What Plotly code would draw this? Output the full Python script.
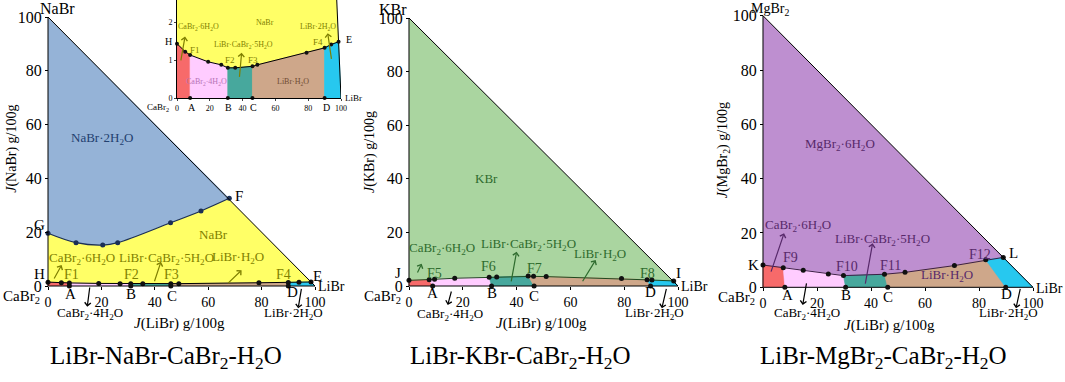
import plotly.graph_objects as go

W, H = 1065, 382
FONT = "Liberation Serif, Times New Roman, serif"

# ---------------- data ----------------
# Panel 1: LiBr-NaBr-CaBr2-H2O
nabr_upper_x = [0, 10.5, 20.5, 26.1, 45.9, 57.3, 67.9]          # G ... F
nabr_upper_y = [19.6, 16.1, 15.2, 16.1, 23.5, 27.9, 32.6]
nabr_low_x = [0, 5, 8, 19, 27, 31, 35.5, 46, 49, 79, 90, 94, 98.5]  # H ... E
nabr_low_y = [1.44, 1.23, 1.14, 0.96, 0.88, 0.80, 0.80, 0.84, 0.88, 1.20, 1.33, 1.42, 1.49]
nabr_inv_idx = [0, 2, 5, 7, 10, 12]          # H, F1, F2, F3, F4, E
nabr_base_x = [0, 8, 31, 46, 90, 100]        # CaBr2, A, B, C, D, LiBr

# Panel 2: LiBr-KBr-CaBr2-H2O
kbr_x = [0, 7.5, 9.5, 17.0, 29.8, 32.6, 44.3, 46.3, 51.0, 79.0, 88.5, 90.3, 98.4]  # J ... I
kbr_y = [2.1, 2.3, 2.5, 2.9, 3.3, 3.4, 3.7, 3.6, 3.5, 2.8, 2.3, 2.2, 1.9]
kbr_inv_idx = [0, 1, 4, 6, 10, 12]           # J, F5, F6, F7, F8, I
kbr_base_x = [0, 8.8, 30.7, 46.5, 89.8, 100]

# Panel 3: LiBr-MgBr2-CaBr2-H2O
mgbr_x = [0, 7.5, 14.9, 24.2, 29.8, 45.0, 52.6, 70.9, 82.5, 89.0]  # K ... L
mgbr_y = [8.2, 7.2, 6.3, 4.9, 4.3, 4.8, 5.5, 8.0, 10.1, 11.0]
mgbr_inv_idx = [0, 1, 4, 5, 8, 9]            # K, F9, F10, F11, F12, L
mgbr_base_x = [0, 8.1, 30.6, 46.2, 89.9, 100]

tick_vals = [0, 20, 40, 60, 80, 100]
inset_y_ticks = [0, 1, 2]
phase_colors = ["#f76a6a", "#ffccff", "#47a89d", "#cea78a", "#27c8ef"]
titles = ["LiBr-NaBr-CaBr<sub>2</sub>-H<sub>2</sub>O",
          "LiBr-KBr-CaBr<sub>2</sub>-H<sub>2</sub>O",
          "LiBr-MgBr<sub>2</sub>-CaBr<sub>2</sub>-H<sub>2</sub>O"]

# ---------------- layout geometry (pixels) ----------------
panels = [
    dict(x0=48, x100=315, y0=286, y100=17),
    dict(x0=409, x100=678, y0=286, y100=18),
    dict(x0=763, x100=1033, y0=287.3, y100=15.7),
]
XR = [-17, 106]
YR = [-16, 105]
inset = dict(x0=177, x100=341, y0=98, ytop=0)
INSET_YR = [0, 2.6]

fig = go.Figure()
ann = []

def dom(p):
    sx = (p['x100'] - p['x0']) / 100
    sy = (p['y0'] - p['y100']) / 100
    left = p['x0'] + XR[0] * sx
    right = p['x0'] + XR[1] * sx
    bottom = p['y0'] - YR[0] * sy
    top = p['y0'] - YR[1] * sy
    return [left / W, right / W], [1 - bottom / H, 1 - top / H], p['x0'] / W, 1 - p['y0'] / H

def axname(i):
    return ("x" if i == 1 else f"x{i}"), ("y" if i == 1 else f"y{i}")

def bands(cx, cy, idx, base):
    out = []
    for k in range(5):
        i0, i1 = idx[k], idx[k + 1]
        xs = [base[k]] + cx[i0:i1 + 1] + [base[k + 1]]
        ys = [0] + cy[i0:i1 + 1] + [0]
        out.append((xs, ys))
    return out

def add_poly(xs, ys, color, i, lw=0):
    xa, ya = axname(i)
    fig.add_trace(go.Scatter(x=xs, y=ys, mode="lines", fill="toself", fillcolor=color,
                             line=dict(width=lw, color=color), xaxis=xa, yaxis=ya,
                             hoverinfo="skip", showlegend=False))

def add_line(xs, ys, i, color="black", width=1, markers=False, shape="linear", clip=True):
    xa, ya = axname(i)
    fig.add_trace(go.Scatter(x=xs, y=ys, mode="lines+markers" if markers else "lines",
                             line=dict(color=color, width=width, shape=shape),
                             marker=dict(size=5, color="#111111"), xaxis=xa, yaxis=ya,
                             cliponaxis=clip, hoverinfo="skip", showlegend=False))

def add_pts(xs, ys, i, clip=True, size=5):
    xa, ya = axname(i)
    fig.add_trace(go.Scatter(x=xs, y=ys, mode="markers", marker=dict(size=size, color="#111111"),
                             xaxis=xa, yaxis=ya, cliponaxis=clip, hoverinfo="skip", showlegend=False))

def lab(text, x, y, i, color="black", size=14, xanchor="center", angle=0, xs=0, ys=0):
    xa, ya = axname(i)
    ann.append(dict(text=text, x=x, y=y, xref=xa, yref=ya, showarrow=False,
                    font=dict(family=FONT, size=size, color=color), xanchor=xanchor,
                    yanchor="middle", textangle=angle, xshift=xs, yshift=ys))

def arrow(x0, y0, x1, y1, i, color="black"):
    xa, ya = axname(i)
    ann.append(dict(text="", x=x1, y=y1, ax=x0, ay=y0, xref=xa, yref=ya, axref=xa, ayref=ya,
                    showarrow=True, arrowhead=4, arrowsize=1.0, arrowwidth=1.2,
                    arrowcolor=color, standoff=0, startstandoff=0))

tri_x = [0, 0, 100, 0]
tri_y = [0, 100, 0, 0]

# ---------- Panel 1 (NaBr) ----------
add_poly([0, 0, 100], [0, 100, 0], "#ffff66", 1)
xa, ya = axname(1)
fig.add_trace(go.Scatter(x=[0, nabr_upper_x[-1]], y=[100, nabr_upper_y[-1]], mode="lines",
                         line=dict(color="rgba(0,0,0,0)", width=1), xaxis=xa, yaxis=ya,
                         hoverinfo="skip", showlegend=False))
fig.add_trace(go.Scatter(x=nabr_upper_x, y=nabr_upper_y, mode="lines+markers", fill="tonexty",
                         fillcolor="#95b3d7", line=dict(color="#1b2f55", width=1.2, shape="spline"),
                         marker=dict(size=5, color="#1b2f55"), xaxis=xa, yaxis=ya,
                         hoverinfo="skip", showlegend=False))
for (bx, by), c in zip(bands(nabr_low_x, nabr_low_y, nabr_inv_idx, nabr_base_x), phase_colors):
    add_poly(bx, by, c, 1, lw=0.6)
add_line(nabr_low_x, nabr_low_y, 1, width=1, markers=True)
add_line(tri_x, tri_y, 1, width=1)
add_pts(nabr_base_x[1:5], [0] * 4, 1)

# ---------- Panel 2 (KBr) ----------
add_poly([0, 0, 100], [0, 100, 0], "#aad5a0", 2)
for (bx, by), c in zip(bands(kbr_x, kbr_y, kbr_inv_idx, kbr_base_x), phase_colors):
    add_poly(bx, by, c, 2, lw=0.6)
add_line(kbr_x, kbr_y, 2, color="#1f4a1f", width=1, markers=True)
add_line(tri_x, tri_y, 2, width=1)
add_pts(kbr_base_x[1:5], [0] * 4, 2)

# ---------- Panel 3 (MgBr2) ----------
add_poly([0, 0, 100], [0, 100, 0], "#be8fd0", 3)
for (bx, by), c in zip(bands(mgbr_x, mgbr_y, mgbr_inv_idx, mgbr_base_x), phase_colors):
    add_poly(bx, by, c, 3, lw=0.6)
add_line(mgbr_x, mgbr_y, 3, color="#3b1f45", width=1, markers=True)
add_line(tri_x, tri_y, 3, width=1)
add_pts(mgbr_base_x[1:5], [0] * 4, 3)

# ---------- Inset of panel 1 (axis 4) ----------
add_poly([0, 0, 100], [0, 100, 0], "#ffff66", 4)
for (bx, by), c in zip(bands(nabr_low_x, nabr_low_y, nabr_inv_idx, nabr_base_x), phase_colors):
    add_poly(bx, by, c, 4, lw=0.8)
add_line([0, 100], [100, 0], 4, width=1)
add_line(nabr_low_x, nabr_low_y, 4, width=1, markers=False)
add_pts(nabr_low_x, nabr_low_y, 4, clip=False, size=4)
add_pts(nabr_base_x[1:5], [0] * 4, 4, clip=False, size=4)

# ---------------- labels ----------------
OL = "#7f7f00"
GR = "#2e6b2e"
PU = "#57296a"

# Panel 1
lab("NaBr", 3.6, 103.0, 1, size=16)
lab("NaBr·2H<sub>2</sub>O", 20.1, 54.9, 1, color="#22406f", size=13)
lab("F", 69.3, 33.6, 1, xanchor="left", size=15)
lab("G", -3, 22.7, 1, size=15)
lab("NaBr", 61.8, 19, 1, color=OL, size=13)
lab("CaBr<sub>2</sub>·6H<sub>2</sub>O", 12.6, 10.3, 1, color=OL, size=13)
lab("LiBr·CaBr<sub>2</sub>·5H<sub>2</sub>O", 44.4, 10.3, 1, color=OL, size=13)
lab("LiBr·H<sub>2</sub>O", 71.3, 10.7, 1, color=OL, size=13)
lab("H", -3.2, 4.5, 1, size=15)
for t, x in zip(["F1", "F2", "F3", "F4"], [8.9, 31.3, 46.3, 88.1]):
    lab(t, x, 4.3, 1, color=OL)
lab("E", 100.9, 3.8, 1, size=15)
lab("LiBr", 100.3, -0.3, 1, xanchor="left")
lab("CaBr<sub>2</sub>", -2.2, -4, 1, xanchor="right", size=15)
for t, x, y in zip("ABCD", [8.5, 31, 46.3, 91.5], [-2.8, -2.8, -3.6, -2.4]):
    lab(t, x, y, 1, size=15)
lab("CaBr<sub>2</sub>·4H<sub>2</sub>O", 15.7, -10.2, 1, size=13)
lab("LiBr·2H<sub>2</sub>O", 91.9, -10.2, 1, size=13)
lab("<i>J</i>(LiBr) g/100g", 49.4, -13.9, 1, size=15)
lab("<i>J</i>(NaBr) g/100g", -13.5, 51, 1, angle=-90)
arrow(2, 2.2, 5.1, 7.8, 1, OL)
arrow(39.7, 1.2, 42.3, 9, 1, OL)
arrow(66.9, 0.5, 72.5, 5.9, 1, OL)
arrow(15.7, 0, 14.7, -7.7, 1)
arrow(95, -0.5, 93.7, -8.3, 1)

# Panel 2
lab("KBr", -6, 103.2, 2, size=16)
lab("KBr", 28.9, 40.2, 2, color=GR, size=13)
lab("CaBr<sub>2</sub>·6H<sub>2</sub>O", 12.4, 14.1, 2, color=GR, size=13)
lab("LiBr·CaBr<sub>2</sub>·5H<sub>2</sub>O", 44.4, 15.3, 2, color=GR, size=13)
lab("LiBr·H<sub>2</sub>O", 71, 11.6, 2, color=GR, size=13)
lab("J", -4, 4.7, 2, size=15)
for t, x, y in zip(["F5", "F6", "F7", "F8"], [9.5, 29.5, 46.5, 88.7], [4.6, 7.2, 6.6, 4.6]):
    lab(t, x, y, 2, color=GR)
lab("I", 100.1, 4.7, 2, size=15)
lab("LiBr", 100.3, -0.3, 2, xanchor="left")
lab("CaBr<sub>2</sub>", -2.2, -4, 2, xanchor="right", size=15)
for t, x, y in zip("ABCD", [8.8, 30.7, 46.5, 89.6], [-2.8, -2.8, -3.6, -2.4]):
    lab(t, x, y, 2, size=15)
lab("CaBr<sub>2</sub>·4H<sub>2</sub>O", 15.2, -10.8, 2, size=13)
lab("LiBr·2H<sub>2</sub>O", 91.4, -10.2, 2, size=13)
lab("<i>J</i>(LiBr) g/100g", 49.3, -13.9, 2, size=15)
lab("<i>J</i>(KBr) g/100g", -14.5, 50, 2, angle=-90)
arrow(2.9, 4.5, 4.7, 8.3, 2, GR)
arrow(37.9, 1.2, 40, 12.8, 2, GR)
arrow(64.2, 1.2, 69.4, 9.7, 2, GR)
arrow(15.9, -1.5, 14.4, -7.1, 2)
arrow(95.8, -0.5, 94, -8.3, 2)

# Panel 3
lab("MgBr<sub>2</sub>", 2.5, 102.4, 3, size=14)
lab("MgBr<sub>2</sub>·6H<sub>2</sub>O", 28.5, 52.6, 3, color=PU, size=13)
lab("CaBr<sub>2</sub>·6H<sub>2</sub>O", 13.1, 22.9, 3, color=PU, size=13)
lab("LiBr·CaBr<sub>2</sub>·5H<sub>2</sub>O", 44.3, 17.7, 3, color=PU, size=13)
lab("LiBr·H<sub>2</sub>O", 68, 4.2, 3, color=PU, size=13)
lab("K", -3.6, 8.2, 3, size=15)
for t, x, y in zip(["F9", "F10", "F11", "F12"], [10, 31, 47.4, 80.4], [11, 7.6, 8.2, 11.9]):
    lab(t, x, y, 3, color=PU)
lab("L", 92.7, 12.5, 3, size=15)
lab("LiBr", 100.3, -0.3, 3, xanchor="left")
lab("CaBr<sub>2</sub>", -2.2, -4, 3, xanchor="right", size=15)
for t, x, y in zip("ABCD", [9.1, 30.8, 46.2, 90.3], [-2.8, -2.8, -3.6, -2.6]):
    lab(t, x, y, 3, size=15)
lab("CaBr<sub>2</sub>·4H<sub>2</sub>O", 16.4, -9.6, 3, size=13)
lab("LiBr·2H<sub>2</sub>O", 90.9, -9.6, 3, size=13)
lab("<i>J</i>(LiBr) g/100g", 47, -14.2, 3, size=15)
lab("<i>J</i>(MgBr<sub>2</sub>) g/100g", -14.8, 50.5, 3, angle=-90)
arrow(2.8, 5.2, 7.8, 19.9, 3, PU)
arrow(37.8, 0.8, 40.6, 16.2, 3, PU)
arrow(16.2, 2, 14.7, -6.5, 3)
arrow(95.4, 0, 93.7, -7.7, 3)

# Inset
IS = 8
lab("NaBr", 53.7, 2.0, 4, color=OL, size=IS)
lab("CaBr<sub>2</sub>·6H<sub>2</sub>O", 13, 1.89, 4, color=OL, size=IS)
lab("LiBr·2H<sub>2</sub>O", 86.2, 1.89, 4, color=OL, size=IS)
lab("LiBr·CaBr<sub>2</sub>·5H<sub>2</sub>O", 40.5, 1.4, 4, color=OL, size=IS)
lab("F1", 11, 1.27, 4, color=OL, size=9)
lab("F2", 32.3, 1.0, 4, color=OL, size=9)
lab("F3", 46.6, 1.0, 4, color=OL, size=9)
lab("F4", 86.2, 1.49, 4, color=OL, size=9)
lab("CaBr<sub>2</sub>·4H<sub>2</sub>O", 18.1, 0.43, 4, color="#b673b6", size=IS)
lab("LiBr·H<sub>2</sub>O", 71, 0.43, 4, color="#6e4b32", size=IS)
lab("H", 0, 1.49, 4, size=10, xanchor="right", xs=-3)
lab("E", 100, 1.56, 4, size=10, xanchor="left", xs=3)
for t, x in zip("ABCD", [9, 31.3, 46.6, 91.3]):
    lab(t, x, 0, 4, size=10, ys=-9)
lab("CaBr<sub>2</sub>", 0, 0, 4, size=9, xanchor="right", xs=-6, ys=-9)
lab("LiBr", 100, 0, 4, size=9, xanchor="left", xs=2)
arrow(2.2, 0.96, 4.9, 1.63, 4, OL)
arrow(94.3, 1.0, 91.9, 1.72, 4, OL)
arrow(38, 0.52, 39.4, 1.2, 4, OL)

# Bottom titles
for k, t in enumerate(titles):
    p = panels[k]
    cx = (p['x0'] + p['x100']) / 2 + [-16, -23, -15][k]
    ann.append(dict(text=t, x=cx / W, y=1 - 357 / H, xref="paper", yref="paper", showarrow=False,
                    font=dict(family=FONT, size=25, color="black"), xanchor="center", yanchor="middle"))

# ---------------- axes ----------------
layout = dict(width=W, height=H, autosize=False, margin=dict(l=0, r=0, t=0, b=0, pad=0),
              paper_bgcolor="white", plot_bgcolor="rgba(0,0,0,0)", showlegend=False,
              template="none", annotations=ann)
xtickfont = dict(family=FONT, size=14, color="black")
ytickfont = dict(family=FONT, size=16, color="black")
for k, p in enumerate(panels, start=1):
    xd, yd, xpos, ypos = dom(p)
    sfx = "" if k == 1 else str(k)
    layout["xaxis" + sfx] = dict(domain=xd, range=XR, anchor="free", position=ypos,
                                 tickvals=tick_vals, ticktext=[str(v) for v in tick_vals],
                                 ticks="outside", ticklen=3, tickcolor="black", tickwidth=1,
                                 showline=False, showgrid=False, zeroline=False, tickfont=xtickfont,
                                 fixedrange=True)
    layout["yaxis" + sfx] = dict(domain=yd, range=YR, anchor="free", position=xpos,
                                 tickvals=tick_vals, ticktext=[str(v) for v in tick_vals],
                                 ticks="outside", ticklen=3, tickcolor="black", tickwidth=1,
                                 showline=False, showgrid=False, zeroline=False, tickfont=ytickfont,
                                 fixedrange=True)
small = dict(family=FONT, size=8, color="black")
layout["xaxis4"] = dict(domain=[inset['x0'] / W, inset['x100'] / W], range=[0, 100], anchor="y4",
                        tickvals=tick_vals, ticktext=[str(v) for v in tick_vals], ticks="outside",
                        ticklen=2, showline=True, linecolor="black", linewidth=1, showgrid=False,
                        zeroline=False, tickfont=small, fixedrange=True)
layout["yaxis4"] = dict(domain=[1 - inset['y0'] / H, 1 - inset['ytop'] / H], range=INSET_YR, anchor="x4",
                        tickvals=inset_y_ticks, ticktext=[str(v) for v in inset_y_ticks], ticks="outside",
                        ticklen=2, showline=True, linecolor="black", linewidth=1, showgrid=False,
                        zeroline=False, tickfont=small, fixedrange=True)
fig.update_layout(**layout)
fig.write_html("out.html", config={"displayModeBar": False},
               post_script="document.body.style.margin='0';document.body.style.padding='0';")
